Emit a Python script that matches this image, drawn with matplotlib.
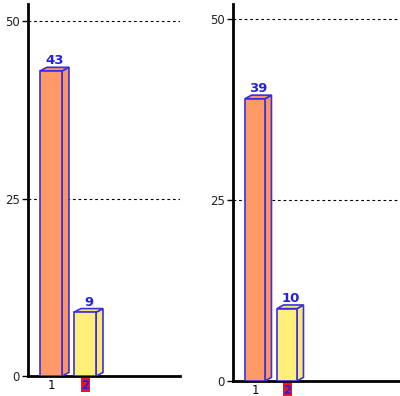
import matplotlib.pyplot as plt
from matplotlib.patches import Polygon

# data
categories = ['1', '2']
left_values = [43, 9]
right_values = [39, 10]
bar_colors = ['#FF9966', '#FFEE77']
side_colors = ['#F99563', '#F7EA7A']
edge = '#3A2FE0'

fig = plt.figure(figsize=(4, 3.96), dpi=100)


def draw_panel(ax, values, width, dx, dy, xlim, ylim):
    xs = [1, 2]
    ax.set_xlim(*xlim)
    ax.set_ylim(*ylim)
    for x, v, c, sc in zip(xs, values, bar_colors, side_colors):
        x0 = x - width / 2
        x1 = x + width / 2
        # side face
        ax.add_patch(Polygon([(x1, 0), (x1 + dx, dy), (x1 + dx, v + dy), (x1, v)],
                             closed=True, facecolor=sc, edgecolor=edge, lw=1.2, zorder=3))
        # top face
        ax.add_patch(Polygon([(x0, v), (x0 + dx, v + dy), (x1 + dx, v + dy), (x1, v)],
                             closed=True, facecolor=sc, edgecolor=edge, lw=1.2, zorder=3))
        ax.bar(x, v, width=width, color=c, edgecolor=edge, lw=1.2, zorder=4)
        ax.text(x + dx / 2, v + dy, str(v), ha='center', va='bottom',
                color='#2222DD', fontweight='bold', fontsize=9.5, zorder=5)
    for y in [25, 50]:
        ax.axhline(y, color='black', ls=(0, (2.5, 2.5)), lw=0.8, zorder=1)
    ax.set_yticks([0, 25, 50])
    ax.set_yticklabels(['0', '25', '50'], fontsize=8.5, color='#222222')
    ax.set_xticks(xs)
    ax.set_xticklabels(categories, fontsize=8.5)
    lbl = ax.get_xticklabels()[1]
    lbl.set_color('#2222DD')
    lbl.set_fontweight('bold')
    lbl.set_bbox(dict(facecolor='#EE1122', edgecolor='none', pad=0.3))
    ax.tick_params(axis='x', length=0, pad=2)
    ax.tick_params(axis='y', length=4, width=1, pad=2)
    for s in ['top', 'right']:
        ax.spines[s].set_visible(False)
    ax.spines['left'].set_linewidth(2)
    ax.spines['bottom'].set_linewidth(2)


ax1 = fig.add_axes([0.07, 0.0505, 0.38, 0.939])
draw_panel(ax1, left_values, 0.65, 0.2, 0.5, (0.32, 4.79), (0, 52.4))

ax2 = fig.add_axes([0.5825, 0.038, 0.4175, 0.952])
draw_panel(ax2, right_values, 0.625, 0.2, 0.5, (0.31, 5.53), (0, 52.1))

plt.savefig('out.png', dpi=100)
